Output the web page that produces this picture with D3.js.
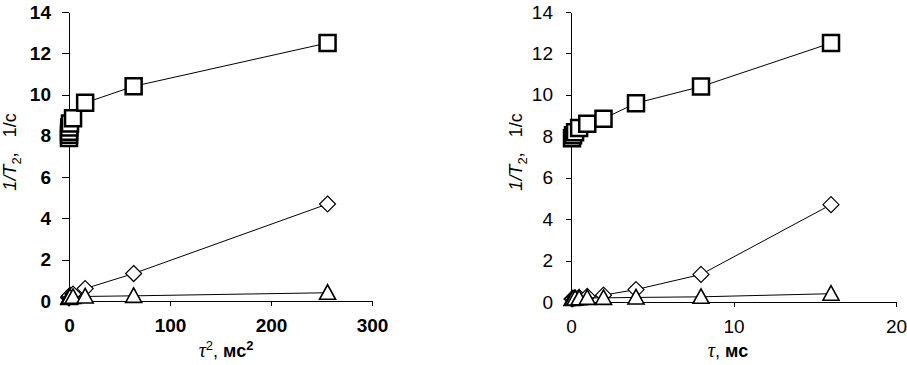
<!DOCTYPE html>
<html>
<head>
<meta charset="utf-8">
<script src="https://cdn.jsdelivr.net/npm/d3@7"></script>
<style>
  body { margin: 0; background: #fff; }
  svg { display: block; font-family: "Liberation Sans", Arial, sans-serif; }
</style>
</head>
<body>
<svg id="svg" width="907" height="365"></svg>
<script>
// echo delays, ms
const tau = [0.0625, 0.125, 0.25, 0.5, 1, 2, 4, 8, 16];
const tau2 = tau.map(t => t * t);

// 1/T2 values, 1/s
const squares = [7.9, 8.05, 8.2, 8.4, 8.6, 8.85, 9.6, 10.4, 12.5];
const diamonds = [0.15, 0.17, 0.2, 0.22, 0.27, 0.33, 0.6, 1.33, 4.7];
const triangles = [0.15, 0.16, 0.17, 0.18, 0.2, 0.2, 0.22, 0.25, 0.4];

const yTicks = [0, 2, 4, 6, 8, 10, 12, 14];
const xTicksLeft = [0, 100, 200, 300];
const xTicksRight = [0, 10, 20];

const svg = d3.select("#svg");

function drawPanel(p) {
    const g = svg.append("g");

    const x = d3.scaleLinear().domain(p.xDomain).range(p.xRange);
    const y = d3.scaleLinear().domain([0, 14]).range(p.yRange);

    // axes
    const ya = g.append("g")
        .attr("transform", "translate(" + p.xRange[0] + ",0)")
        .call(d3.axisLeft(y).tickValues(yTicks).tickSize(p.yTick).tickSizeOuter(0).tickPadding(p.yPad).tickFormat(d3.format("d")));
    const xa = g.append("g")
        .attr("transform", "translate(0," + p.yRange[0] + ")")
        .call(d3.axisBottom(x).tickValues(p.xTicks).tickSize(5).tickSizeOuter(0).tickPadding(13).tickFormat(d3.format("d")));
    [ya, xa].forEach(a => {
        a.attr("font-family", null).attr("font-size", null);
        a.selectAll("text")
            .attr("fill", "#000")
            .style("font-size", "19px")
            .style("font-weight", p.bold ? "bold" : "normal");
        a.selectAll("line, path").attr("stroke", "#000").attr("stroke-width", 1)
            .attr("shape-rendering", "crispEdges");
    });

    const line = d3.line()
        .x((d, i) => x(p.xs[i]))
        .y(d => y(d));

    const series = [
        { values: squares, shape: "square" },
        { values: diamonds, shape: "diamond" },
        { values: triangles, shape: "triangle" }
    ];

    series.forEach(s => {
        g.append("path")
            .datum(s.values)
            .attr("fill", "none")
            .attr("stroke", "#000")
            .attr("stroke-width", 1)
            .attr("d", line);

        const m = g.append("g").selectAll("path")
            .data(s.values)
            .join("path")
            .attr("transform", (d, i) => "translate(" + x(p.xs[i]) + "," + y(d) + ")")
            .attr("fill", "#fff")
            .attr("stroke", "#000");
        if (s.shape === "square") {
            m.attr("d", "M-8,-8H8V8H-8Z").attr("stroke-width", 2.5);
        } else if (s.shape === "diamond") {
            m.attr("d", "M0,-8L8,0L0,8L-8,0Z").attr("stroke-width", 1.2);
        } else {
            m.attr("d", "M0,-8L8,6.5L-8,6.5Z").attr("stroke-width", 1.6);
        }
    });

    // y title
    const yt = g.append("text")
        .attr("transform", "translate(" + p.yTitleX + ",152) rotate(-90)")
        .attr("text-anchor", "middle")
        .style("font-size", "18px");
    yt.append("tspan").style("font-style", "italic").text("1/T");
    yt.append("tspan").attr("dy", 5).style("font-size", "13px").text("2");
    yt.append("tspan").attr("dy", -5).text(",\u00a0\u00a0 1/с");

    // x title
    const xt = g.append("text")
        .attr("x", p.xTitleX)
        .attr("y", 357)
        .attr("text-anchor", "middle")
        .style("font-size", "18px");
    xt.append("tspan").style("font-style", "italic").style("font-family", "Liberation Serif").style("font-size", "20px").text("τ");
    if (p.squared) {
        xt.append("tspan").attr("dy", -7).style("font-size", "13px").text("2");
        xt.append("tspan").attr("dy", 7).text(", ");
    } else {
        xt.append("tspan").text(", ");
    }
    xt.append("tspan").style("font-weight", "bold").text("мс");
    if (p.squared) {
        xt.append("tspan").attr("dy", -7).style("font-size", "13px").style("font-weight", "bold").text("2");
    }
}

drawPanel({
    xDomain: [0, 300], xRange: [69, 372], yRange: [301, 12],
    xTicks: xTicksLeft, xs: tau2, bold: true, squared: true,
    yTick: 7, yPad: 11, yTitleX: 16, xTitleX: 226
});

drawPanel({
    xDomain: [0, 20], xRange: [571, 896], yRange: [302, 12],
    xTicks: xTicksRight, xs: tau, bold: false, squared: false,
    yTick: 5, yPad: 13, yTitleX: 522, xTitleX: 728
});
</script>
</body>
</html>
